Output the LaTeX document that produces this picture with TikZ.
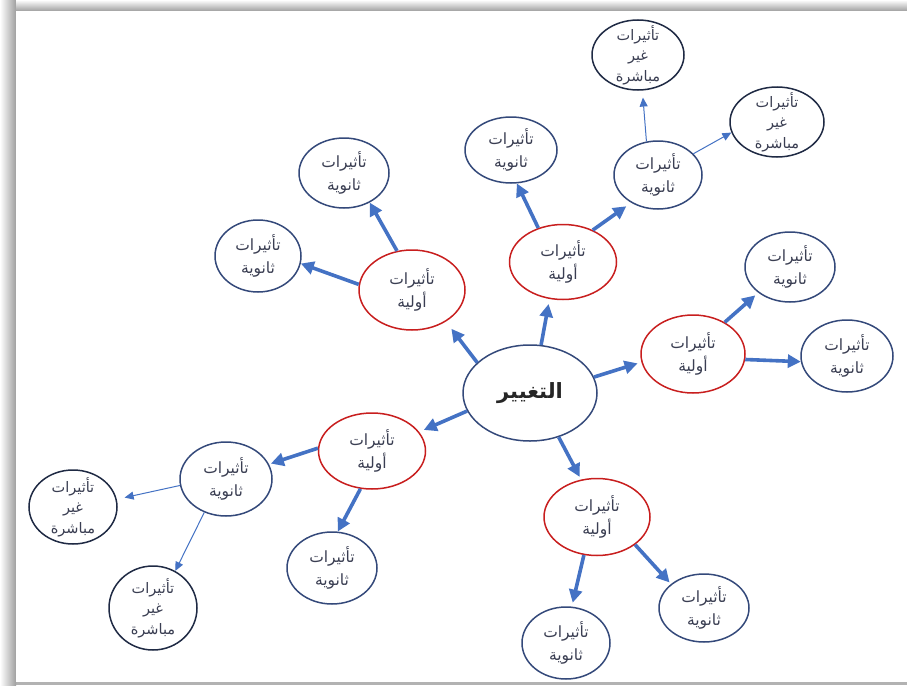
\documentclass[tikz,border=0pt]{standalone}
\usepackage{fontspec}
\usetikzlibrary{arrows.meta,shapes.geometric}
\TeXXeTstate=1
\newfontfamily\arabicfont[Script=Arabic]{DejaVu Sans}
\newcommand{\artxt}[1]{\beginR#1\endR}
\definecolor{arrowblue}{HTML}{4472C4}
\definecolor{navyline}{HTML}{34497A}
\definecolor{darkline}{HTML}{1F2A44}
\definecolor{redline}{HTML}{C81E1E}
\definecolor{labelgray}{HTML}{3A3E52}

\tikzset{
  bubble/.style={ellipse, draw, line width=1.5pt, fill=white, inner xsep=-12pt, inner ysep=-16pt,
    align=center, font=\arabicfont\fontsize{15.5}{23}\selectfont, text=labelgray},
  primary/.style={bubble, draw=redline},
  secondary/.style={bubble, draw=navyline},
  indirect/.style={bubble, draw=darkline, font=\arabicfont\fontsize{14.5}{20.5}\selectfont},
  core/.style={bubble, draw=navyline, font=\arabicfont\bfseries\fontsize{21}{22}\selectfont, text=black!85},
  thick arrow/.style={draw=arrowblue, line width=3.6pt, -{Triangle[length=13pt,width=13pt]}},
  thin arrow/.style={draw=arrowblue, line width=1pt, -{Triangle[length=9pt,width=8pt]}},
  sz/.style 2 args={minimum width=#1pt, minimum height=#2pt},
}

\begin{document}
\begin{tikzpicture}[x=1pt,y=-1pt]
  \useasboundingbox (0,0) rectangle (907,685);
  % page frame with soft shadow on the top and left
  \fill[gray!60] (0,0) rectangle (907,685);
  \shade[left color=white, right color=gray!75] (0,0) rectangle (16,685);
  \shade[top color=white, bottom color=gray!75] (16,0) rectangle (907,11);
  \fill[white] (16,11) rectangle (907,682);

  % centre
  \node[core, sz={134}{96}] (c) at (530,393) {\artxt{التغيير}};

  % primary effects
  \node[primary, sz={106}{80}] (p1) at (412,290) {\artxt{تأثيرات}\\\artxt{أولية}};
  \node[primary, sz={107}{75}] (p2) at (563,262) {\artxt{تأثيرات}\\\artxt{أولية}};
  \node[primary, sz={104}{78}] (p3) at (693,354) {\artxt{تأثيرات}\\\artxt{أولية}};
  \node[primary, sz={107}{76}] (p4) at (372,451) {\artxt{تأثيرات}\\\artxt{أولية}};
  \node[primary, sz={106}{77}] (p5) at (597,517) {\artxt{تأثيرات}\\\artxt{أولية}};

  % secondary effects
  \node[secondary, sz={90}{70}] (s1) at (344,173) {\artxt{تأثيرات}\\\artxt{ثانوية}};
  \node[secondary, sz={86}{72}] (s2) at (258,256) {\artxt{تأثيرات}\\\artxt{ثانوية}};
  \node[secondary, sz={92}{66}] (s3) at (511,150) {\artxt{تأثيرات}\\\artxt{ثانوية}};
  \node[secondary, sz={88}{68}] (s4) at (658,175) {\artxt{تأثيرات}\\\artxt{ثانوية}};
  \node[secondary, sz={90}{70}] (s5) at (790,267) {\artxt{تأثيرات}\\\artxt{ثانوية}};
  \node[secondary, sz={92}{72}] (s6) at (847,356) {\artxt{تأثيرات}\\\artxt{ثانوية}};
  \node[secondary, sz={92}{74}] (s7) at (226,479) {\artxt{تأثيرات}\\\artxt{ثانوية}};
  \node[secondary, sz={90}{72}] (s8) at (332,568) {\artxt{تأثيرات}\\\artxt{ثانوية}};
  \node[secondary, sz={88}{72}] (s9) at (566,643) {\artxt{تأثيرات}\\\artxt{ثانوية}};
  \node[secondary, sz={90}{68}] (s10) at (704,608) {\artxt{تأثيرات}\\\artxt{ثانوية}};

  % indirect effects
  \node[indirect, sz={92}{70}] (i1) at (638,55) {\artxt{تأثيرات}\\\artxt{غير}\\\artxt{مباشرة}};
  \node[indirect, sz={94}{70}] (i2) at (777,122) {\artxt{تأثيرات}\\\artxt{غير}\\\artxt{مباشرة}};
  \node[indirect, sz={88}{74}] (i3) at (73,507) {\artxt{تأثيرات}\\\artxt{غير}\\\artxt{مباشرة}};
  \node[indirect, sz={88}{84}] (i4) at (153,608) {\artxt{تأثيرات}\\\artxt{غير}\\\artxt{مباشرة}};

  % centre to primary
  \draw[thick arrow, shorten >=9pt] (c.150) -- (p1.-43);
  \draw[thick arrow, shorten >=5pt] (c.77) -- (p2.-110);
  \draw[thick arrow, shorten >=4pt] (c.14) -- (p3.-171);
  \draw[thick arrow, shorten >=5pt] (c.-164) -- (p4.22);
  \draw[thick arrow, shorten >=3pt] (c.-57) -- (p5.113);

  % primary to secondary
  \draw[thick arrow] (p1.111) -- (s1.-49);
  \draw[thick arrow] (p1.174) -- (s2.-10);
  \draw[thick arrow] (p2.126) -- (s3.-80);
  \draw[thick arrow, shorten >=6pt] (p2.47) -- (s4.-134);
  \draw[thick arrow, shorten >=4pt] (p3.45) -- (s5.-141);
  \draw[thick arrow] (p3.-6) -- (s6.-173);
  \draw[thick arrow, shorten >=2pt] (p4.177) -- (s7.19);
  \draw[thick arrow] (p4.-107) -- (s8.81);
  \draw[thick arrow, shorten >=4pt] (p5.-109) -- (s9.81);
  \draw[thick arrow, shorten >=2pt] (p5.-36) -- (s10.144);

  % secondary to indirect
  \draw[thin arrow, shorten >=7pt] (s4.109) -- (i1.-83);
  \draw[thin arrow] (s4.31) -- (i2.-167);
  \draw[thin arrow, shorten >=8pt] (s7.-172) -- (i3.10);
  \draw[thin arrow] (s7.-123) -- (i4.59);
\end{tikzpicture}
\end{document}
